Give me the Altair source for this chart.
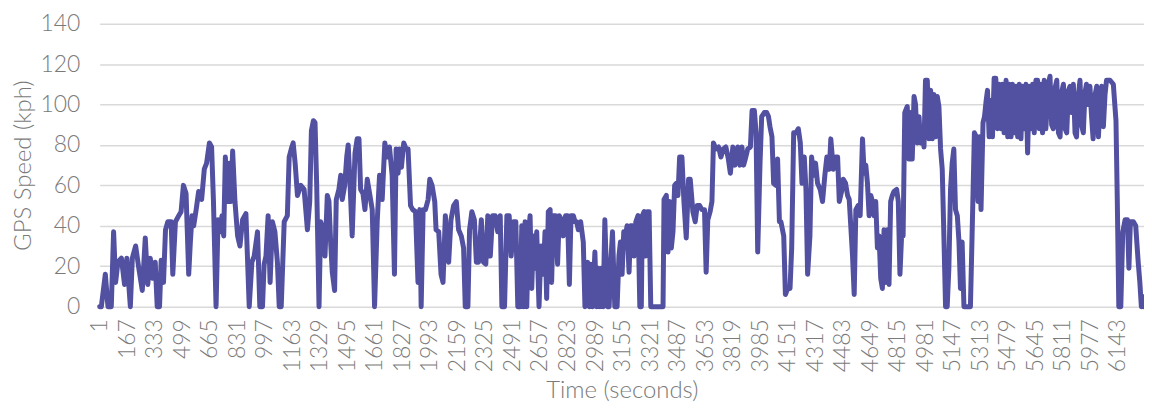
import altair as alt
import pandas as pd

time_s = [
    1, 11, 35, 51, 71, 85, 97, 111, 132, 151, 165, 186, 198, 218, 237, 258, 276, 291, 306, 322,
    336, 348, 362, 372, 386, 398, 412, 432, 442, 458, 478, 492, 506, 522, 538, 548, 558, 568, 583, 598,
    616, 632, 646, 663, 676, 687, 703, 715, 727, 739, 749, 759, 773, 783, 793, 803, 817, 833, 847, 863,
    883, 903, 919, 933, 953, 967, 983, 993, 1004, 1017, 1029, 1043, 1058, 1073, 1084, 1096, 1114, 1133, 1144, 1160,
    1168, 1180, 1194, 1214, 1234, 1254, 1268, 1278, 1290, 1300, 1310, 1324, 1334, 1350, 1360, 1374, 1384, 1394, 1404, 1418,
    1428, 1444, 1455, 1464, 1479, 1491, 1500, 1511, 1524, 1541, 1554, 1565, 1575, 1589, 1601, 1615, 1629, 1645, 1659, 1675,
    1689, 1705, 1721, 1735, 1749, 1765, 1779, 1789, 1801, 1809, 1821, 1835, 1849, 1861, 1876, 1889, 1906, 1921, 1932, 1940,
    1952, 1966, 1982, 1992, 2006, 2022, 2030, 2046, 2060, 2072, 2086, 2096, 2106, 2120, 2136, 2152, 2166, 2182, 2196, 2206,
    2222, 2232, 2246, 2261, 2273, 2286, 2303, 2316, 2330, 2342, 2357, 2371, 2387, 2402, 2417, 2427, 2443, 2457, 2471, 2483,
    2497, 2511, 2523, 2537, 2547, 2557, 2567, 2577, 2587, 2597, 2607, 2617, 2627, 2637, 2651, 2663, 2677, 2687, 2697, 2707,
    2718, 2727, 2737, 2751, 2763, 2773, 2787, 2797, 2811, 2823, 2834, 2844, 2858, 2868, 2878, 2888, 2902, 2918, 2928, 2944,
    2954, 2964, 2974, 2988, 2998, 3008, 3018, 3028, 3038, 3048, 3064, 3074, 3084, 3094, 3108, 3122, 3133, 3142, 3152, 3162,
    3172, 3182, 3194, 3204, 3214, 3224, 3235, 3248, 3259, 3268, 3274, 3285, 3293, 3303, 3315, 3325, 3339, 3359, 3373, 3399,
    3405, 3419, 3429, 3439, 3449, 3459, 3469, 3479, 3489, 3499, 3513, 3525, 3539, 3553, 3563, 3579, 3593, 3605, 3620, 3633,
    3649, 3659, 3669, 3683, 3694, 3703, 3718, 3734, 3748, 3763, 3778, 3793, 3805, 3820, 3833, 3850, 3863, 3875, 3885, 3895,
    3910, 3926, 3936, 3950, 3960, 3970, 3984, 3994, 4010, 4024, 4035, 4044, 4056, 4066, 4080, 4090, 4101, 4110, 4127, 4137,
    4151, 4165, 4175, 4187, 4201, 4215, 4227, 4237, 4251, 4261, 4271, 4285, 4295, 4307, 4319, 4331, 4347, 4361, 4375, 4387,
    4402, 4411, 4426, 4441, 4452, 4462, 4476, 4486, 4500, 4512, 4522, 4542, 4552, 4562, 4576, 4588, 4602, 4612, 4622, 4632,
    4642, 4652, 4662, 4672, 4682, 4692, 4702, 4712, 4722, 4732, 4742, 4752, 4762, 4772, 4782, 4792, 4808, 4818, 4828, 4838,
    4847, 4857, 4872, 4882, 4892, 4902, 4913, 4922, 4932, 4943, 4952, 4963, 4973, 4982, 4993, 5003, 5013, 5023, 5033, 5043,
    5053, 5063, 5073, 5083, 5093, 5103, 5113, 5123, 5133, 5143, 5153, 5163, 5174, 5184, 5193, 5203, 5214, 5253, 5263, 5277,
    5289, 5299, 5309, 5317, 5329, 5338, 5348, 5356, 5366, 5376, 5386, 5396, 5406, 5416, 5426, 5436, 5446, 5456, 5468, 5478,
    5488, 5498, 5507, 5517, 5528, 5538, 5548, 5558, 5567, 5578, 5588, 5598, 5608, 5618, 5628, 5638, 5648, 5658, 5668, 5678,
    5688, 5698, 5708, 5723, 5733, 5743, 5753, 5763, 5774, 5784, 5794, 5803, 5814, 5824, 5834, 5844, 5854, 5863, 5874, 5884,
    5893, 5903, 5914, 5923, 5934, 5944, 5953, 5964, 5974, 5983, 5993, 6003, 6015, 6025, 6035, 6045, 6055, 6065, 6074, 6095,
    6115, 6131, 6139, 6148, 6160, 6172, 6186, 6200, 6209, 6218, 6236, 6250, 6265, 6275, 6284, 6292, 6300,
]

speed_kph = [
    0, 0, 16, 0, 0, 37, 12, 22, 24, 11, 24, 0, 24, 30, 19, 8, 34, 11, 24, 14,
    22, 0, 0, 23, 12, 38, 42, 42, 16, 42, 45, 47, 60, 56, 16, 32, 45, 40, 48, 57,
    53, 68, 71, 81, 79, 53, 0, 43, 37, 45, 35, 74, 52, 71, 52, 77, 52, 35, 30, 43,
    46, 0, 22, 25, 37, 0, 0, 21, 25, 45, 12, 42, 37, 22, 0, 0, 42, 45, 74, 79,
    81, 71, 55, 60, 58, 38, 52, 87, 92, 91, 60, 0, 42, 38, 25, 55, 52, 32, 17, 8,
    53, 58, 65, 53, 60, 74, 80, 61, 35, 76, 83, 83, 58, 56, 48, 63, 56, 48, 0, 42,
    65, 53, 81, 74, 79, 65, 16, 78, 66, 78, 69, 81, 78, 78, 50, 48, 47, 12, 48, 0,
    48, 48, 53, 63, 60, 52, 38, 37, 16, 12, 45, 32, 22, 43, 50, 52, 38, 35, 29, 0,
    0, 38, 47, 43, 22, 22, 43, 22, 21, 45, 25, 45, 45, 37, 45, 0, 0, 45, 45, 25,
    42, 42, 0, 0, 40, 0, 42, 0, 35, 45, 9, 35, 19, 37, 0, 30, 16, 37, 4, 47,
    48, 12, 45, 45, 21, 45, 43, 35, 45, 45, 11, 45, 45, 42, 42, 38, 42, 32, 0, 22,
    0, 21, 0, 27, 0, 19, 0, 19, 0, 43, 0, 0, 22, 37, 0, 0, 25, 32, 16, 37,
    35, 40, 17, 40, 40, 25, 42, 45, 0, 0, 45, 47, 25, 47, 47, 0, 0, 0, 0, 0,
    53, 55, 27, 52, 29, 37, 60, 61, 55, 74, 74, 52, 34, 63, 63, 47, 42, 50, 50, 48,
    48, 17, 43, 47, 52, 81, 78, 79, 74, 78, 79, 73, 66, 79, 70, 79, 70, 79, 70, 73,
    78, 79, 97, 97, 86, 27, 71, 94, 96, 96, 94, 89, 84, 61, 60, 73, 42, 42, 35, 6,
    9, 9, 29, 86, 86, 88, 81, 61, 74, 58, 16, 35, 74, 65, 71, 61, 58, 52, 65, 74,
    68, 83, 68, 74, 74, 52, 57, 63, 61, 55, 53, 25, 6, 48, 50, 45, 83, 66, 70, 61,
    45, 55, 52, 45, 52, 29, 35, 14, 9, 38, 12, 38, 11, 52, 55, 57, 58, 52, 16, 35,
    35, 96, 99, 73, 96, 73, 104, 100, 81, 94, 81, 88, 79, 112, 112, 83, 107, 83, 105, 84,
    104, 99, 78, 68, 35, 0, 0, 19, 58, 71, 78, 48, 45, 32, 9, 32, 0, 0, 35, 86,
    84, 52, 84, 48, 91, 94, 102, 107, 84, 102, 84, 113, 113, 88, 110, 88, 110, 86, 112, 84,
    110, 84, 110, 86, 109, 84, 110, 83, 109, 88, 110, 76, 109, 88, 110, 86, 112, 112, 88, 110,
    86, 112, 88, 110, 114, 90, 88, 108, 112, 86, 84, 106, 110, 88, 86, 107, 109, 96, 110, 86,
    84, 104, 112, 90, 86, 106, 110, 100, 109, 95, 83, 104, 109, 84, 100, 109, 89, 105, 112, 112,
    110, 92, 52, 0, 0, 37, 43, 43, 19, 42, 42, 40, 22, 12, 0, 5, 0,
]

tick_values = list(range(1, 6144, 166))

df = pd.DataFrame({"t": time_s, "v": speed_kph})

FONT = "Lato"
GRAY = "#7a7a7a"

chart = (
    alt.Chart(df)
    .mark_line(color="#5250A0", strokeWidth=5, strokeJoin="round", strokeCap="round")
    .encode(
        x=alt.X(
            "t:Q",
            title="Time (seconds)",
            scale=alt.Scale(domain=[1, 6300], nice=False, zero=False),
            axis=alt.Axis(
                values=tick_values,
                format="d",
                labelAngle=-90,
                grid=False,
                ticks=False,
                domain=False,
                labelPadding=12,
                labelFont=FONT,
                labelFontSize=23,
                labelFontWeight=300,
                labelColor=GRAY,
                labelOverlap=False,
                titleFont=FONT,
                titleFontSize=24,
                titleFontWeight=300,
                titleColor=GRAY,
                titleBaseline="middle",
                titleY=84,
            ),
        ),
        y=alt.Y(
            "v:Q",
            title="GPS Speed (kph)",
            scale=alt.Scale(domain=[0, 140], nice=False),
            axis=alt.Axis(
                values=[0, 20, 40, 60, 80, 100, 120, 140],
                grid=True,
                gridColor="#d9d9d9",
                gridWidth=1.5,
                ticks=False,
                domain=False,
                labelPadding=20,
                labelFont=FONT,
                labelFontSize=23,
                labelFontWeight=300,
                labelColor=GRAY,
                titleFont=FONT,
                titleFontSize=24,
                titleFontWeight=300,
                titleColor=GRAY,
                titleBaseline="middle",
                titleX=-76,
            ),
        ),
    )
    .properties(
        width=1048,
        height=284,
        autosize=alt.AutoSizeParams(type="none"),
        padding={"left": 92, "top": 15, "right": 0, "bottom": 97},
    )
    .configure_view(stroke=None)
)

chart.save("out.html", embed_options={"renderer": "svg", "actions": False})
